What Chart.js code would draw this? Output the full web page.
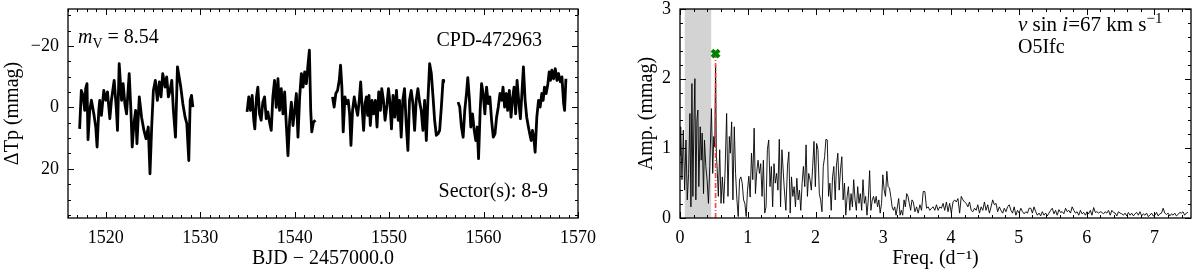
<!DOCTYPE html>
<html>
<head>
<meta charset="utf-8">
<title>CPD-472963</title>
<script src="https://cdn.jsdelivr.net/npm/chart.js@4.4.1/dist/chart.umd.min.js"></script>
<style>
    html, body { margin: 0; padding: 0; background: #fff; }
    #wrap { display: flex; width: 1200px; height: 277px; }
    canvas { display: block; }
</style>
</head>
<body>
<div id="wrap">
    <canvas id="lc-chart" width="600" height="277"></canvas>
    <canvas id="pg-chart" width="600" height="277"></canvas>
</div>
<script>
// Light curve, TESS sectors 8-9 (BJD - 2457000.0, mmag), one array pair per orbit
const seg1Time = [1517.23, 1517.41, 1517.59, 1517.77, 1517.87, 1518.01, 1518.12, 1518.30, 1518.48, 1518.76, 1518.94, 1519.08, 1519.26, 1519.36, 1519.54, 1519.79, 1520.00, 1520.18, 1520.43, 1520.60, 1520.89, 1521.13, 1521.24, 1521.42, 1521.67, 1521.84, 1522.02, 1522.20, 1522.48, 1522.66, 1522.80, 1522.98, 1523.16, 1523.30, 1523.55, 1523.79, 1524.04, 1524.26, 1524.50, 1524.68, 1524.86, 1525.04, 1525.25, 1525.46, 1525.67, 1525.85, 1526.03, 1526.28, 1526.45, 1526.63, 1526.81, 1526.99, 1527.16, 1527.38, 1527.59, 1527.77, 1527.94, 1528.16, 1528.40, 1528.58, 1528.79, 1528.94, 1529.08, 1529.22];
const seg1Mag = [7.0, -5.5, -3.9, 1.0, -6.1, -7.7, 10.5, 1.0, -2.3, 2.6, 6.4, 12.9, 1.0, -2.3, 2.6, -5.5, -2.3, -5.0, 3.7, -2.3, -8.8, 1.0, 7.5, -14.2, -2.3, -7.7, -1.2, 2.1, -11.0, 1.0, 12.9, 5.3, 1.0, 11.8, -3.4, 3.2, 7.5, 10.2, 6.4, 21.6, 6.4, -5.5, -8.8, -2.3, -8.3, -3.4, -11.0, -6.6, -9.9, -3.4, -5.5, -8.8, 1.0, 9.7, -13.2, -9.9, -6.6, -1.2, 3.2, 5.3, 17.3, -2.3, -3.9, -0.1];

const seg2Time = [1534.96, 1535.14, 1535.32, 1535.50, 1535.67, 1535.78, 1535.96, 1536.10, 1536.28, 1536.45, 1536.63, 1536.81, 1536.99, 1537.16, 1537.34, 1537.52, 1537.69, 1537.87, 1538.05, 1538.23, 1538.40, 1538.58, 1538.76, 1538.94, 1539.11, 1539.29, 1539.47, 1539.65, 1539.82, 1540.00, 1540.18, 1540.35, 1540.53, 1540.71, 1540.89, 1541.06, 1541.24, 1541.42, 1541.56, 1541.70, 1541.81, 1541.99, 1542.20];
const seg2Mag = [1.5, -3.4, 1.0, -3.9, 4.2, 7.0, -3.4, -6.6, 2.1, 4.2, -1.7, -3.4, 3.7, 1.5, 4.8, 7.5, -3.4, -8.8, 0, -9.3, 1.0, -6.1, 2.1, -5.0, 5.3, 15.7, 4.2, -1.7, 5.9, 1.0, -4.5, 9.7, -3.4, -11.0, -6.6, -11.5, -7.7, -14.2, -18.6, 1.0, 8.0, 4.8, 4.2];

const seg3Time = [1544.01, 1544.18, 1544.36, 1544.54, 1544.72, 1544.86, 1545.00, 1545.14, 1545.32, 1545.50, 1545.67, 1545.82, 1545.96, 1546.13, 1546.31, 1546.49, 1546.67, 1546.84, 1546.99, 1547.16, 1547.30, 1547.45, 1547.59, 1547.73, 1547.87, 1548.01, 1548.19, 1548.37, 1548.55, 1548.72, 1548.90, 1549.08, 1549.22, 1549.40, 1549.57, 1549.75, 1549.93, 1550.07, 1550.25, 1550.42, 1550.60, 1550.78, 1550.96, 1551.10, 1551.28, 1551.45, 1551.63, 1551.81, 1551.99, 1552.16, 1552.34, 1552.52, 1552.70, 1552.87, 1553.05, 1553.23, 1553.40, 1553.58, 1553.76, 1553.94, 1554.11, 1554.29, 1554.47, 1554.65, 1554.82, 1555.00, 1555.18, 1555.35, 1555.53, 1555.71, 1555.78];
const seg3Mag = [-3.4, -0.1, -4.5, -5.5, -8.8, -13.7, -6.6, 8.0, -3.4, -1.2, -2.3, 2.1, 12.4, 1.0, -3.4, -0.1, 2.6, -2.3, -8.3, 1.0, 7.5, -1.2, -3.4, 2.6, -3.9, 5.9, -2.3, 2.1, -2.3, 6.4, -5.0, 1.0, -6.1, -2.3, 4.2, -0.1, -6.1, -2.3, 7.0, -3.9, 3.2, -5.5, 4.2, -2.3, 9.7, -2.3, -6.1, 5.3, 14.0, -2.3, -5.5, -1.2, 7.5, -2.3, -6.1, -1.7, 1.0, 7.5, -2.3, 10.8, -2.3, -14.2, -11.0, -3.4, 4.2, 9.1, 8.6, 7.5, -0.1, -8.8, -8.3];

const seg4Time = [1557.30, 1557.48, 1557.66, 1557.84, 1558.01, 1558.19, 1558.33, 1558.51, 1558.65, 1558.83, 1559.01, 1559.18, 1559.33, 1559.47, 1559.64, 1559.79, 1559.96, 1560.14, 1560.32, 1560.50, 1560.67, 1560.85, 1561.03, 1561.21, 1561.38, 1561.56, 1561.74, 1561.91, 1562.06, 1562.23, 1562.41, 1562.55, 1562.73, 1562.91, 1563.05, 1563.23, 1563.40, 1563.55, 1563.72, 1563.90, 1564.08, 1564.22, 1564.40, 1564.57, 1564.75, 1564.89, 1565.04, 1565.18, 1565.32, 1565.46, 1565.64, 1565.82, 1565.99, 1566.17, 1566.31, 1566.45, 1566.63, 1566.81, 1566.95, 1567.09, 1567.23, 1567.41, 1567.59, 1567.77, 1567.94, 1568.12, 1568.30, 1568.48, 1568.58, 1568.72];
const seg4Mag = [-1.7, -0.1, 6.4, 9.7, 1.0, -4.5, -9.7, -2.3, 6.4, 2.1, 7.5, 10.8, 6.4, 16.7, 1.0, -7.7, -4.5, 2.1, -6.6, -1.2, -3.4, 4.2, 9.7, 8.6, 3.2, -0.1, -4.5, -2.3, -6.6, -0.1, -4.5, 1.0, -5.5, 3.2, -2.3, -6.6, 2.1, -8.8, -2.3, 3.7, -5.5, -13.2, -2.3, 3.2, 6.4, 8.6, 10.8, 7.5, 9.7, 14.6, 3.2, -2.3, -0.1, -4.5, -2.3, -6.6, -4.5, -7.7, -11.5, -8.8, -12.1, -9.3, -12.6, -8.8, -11.0, -8.3, -9.9, -1.2, 1.0, -9.3];

// Amplitude spectrum (d^-1, mmag), split in frequency bands
const freqLow = [0.000, 0.010, 0.029, 0.049, 0.068, 0.088, 0.107, 0.127, 0.146, 0.161, 0.176, 0.190, 0.205, 0.220, 0.234, 0.249, 0.264, 0.278, 0.298, 0.313, 0.327, 0.347, 0.361, 0.381, 0.400, 0.420, 0.439, 0.464, 0.483, 0.498, 0.513, 0.525, 0.537, 0.547, 0.566, 0.586, 0.605, 0.625, 0.645, 0.664, 0.688, 0.708, 0.728, 0.742, 0.762, 0.781, 0.801, 0.820, 0.840, 0.859, 0.879, 0.898, 0.918, 0.938, 0.957, 0.977, 0.996, 1.016, 1.035, 1.055, 1.074, 1.094, 1.113, 1.133, 1.152, 1.172, 1.191, 1.211, 1.230, 1.250, 1.270, 1.289, 1.309, 1.328, 1.348, 1.367, 1.387, 1.406, 1.426, 1.445, 1.465, 1.484, 1.504];
const ampLow = [0.90, 1.31, 0.55, 1.26, 0.40, 1.12, 0.26, 0.64, 1.50, 0.16, 1.93, 0.31, 1.36, 2.00, 0.26, 1.41, 1.55, 0.45, 1.31, 0.83, 1.22, 0.35, 1.12, 0.74, 0.55, 0.21, 0.74, 1.57, 0.64, 1.17, 1.02, 2.18, 0.90, 0.74, 0.31, 0.98, 0.21, 0.59, 0.21, 0.64, 1.50, 0.31, 1.17, 0.93, 1.38, 0.26, 1.31, 0.64, 0.26, 0.02, 0.55, 0.59, 0.50, 0.26, 0.21, 0.02, 0.40, 0.60, 0.30, 0.93, 0.55, 1.29, 0.35, 0.67, 0.83, 0.64, 0.78, 0.31, 0.83, 0.07, 0.16, 0.98, 1.12, 0.45, 0.74, 0.16, 0.78, 0.50, 0.64, 0.40, 1.13, 0.16, 0.98];

const freqMid = [1.538, 1.562, 1.587, 1.606, 1.626, 1.645, 1.665, 1.684, 1.704, 1.724, 1.743, 1.763, 1.782, 1.802, 1.821, 1.841, 1.860, 1.880, 1.899, 1.919, 1.938, 1.958, 1.977, 1.997, 2.016, 2.036, 2.056, 2.075, 2.095, 2.114, 2.134, 2.153, 2.173, 2.192, 2.212, 2.231, 2.251, 2.270, 2.290, 2.309, 2.329, 2.349, 2.368, 2.388, 2.407, 2.427, 2.446, 2.466, 2.485, 2.505, 2.524, 2.544, 2.563, 2.583, 2.602, 2.622, 2.641, 2.661, 2.681, 2.700, 2.720, 2.739, 2.759, 2.778, 2.798, 2.817, 2.837, 2.856, 2.876, 2.895, 2.915, 2.934, 2.954, 2.974, 2.993, 3.013, 3.032, 3.052, 3.071, 3.091, 3.110, 3.130, 3.149, 3.169, 3.188, 3.208, 3.227, 3.247, 3.266, 3.286, 3.306, 3.325, 3.345, 3.364, 3.384, 3.403, 3.423];
const ampMid = [0.43, 0.11, 0.76, 0.95, 0.07, 0.59, 0.31, 0.45, 0.16, 0.57, 0.26, 0.40, 0.11, 0.50, 0.74, 0.45, 1.05, 0.31, 0.64, 0.55, 0.40, 0.74, 1.10, 0.45, 1.07, 0.98, 0.35, 0.26, 0.09, 0.74, 0.88, 1.13, 1.12, 0.31, 0.50, 0.11, 0.59, 0.74, 0.26, 0.76, 0.93, 0.40, 0.69, 0.88, 0.26, 0.50, 0.04, 0.31, 0.45, 0.11, 0.35, 0.16, 0.55, 0.26, 0.11, 0.45, 0.21, 0.35, 0.11, 0.55, 0.21, 0.31, 0.04, 0.26, 0.68, 0.11, 0.26, 0.31, 0.21, 0.31, 0.16, 0.26, 0.07, 0.21, 0.62, 0.40, 0.31, 0.67, 0.45, 0.43, 0.31, 0.16, 0.11, 0.16, 0.04, 0.16, 0.28, 0.04, 0.11, 0.04, 0.26, 0.16, 0.35, 0.31, 0.21, 0.11, 0.26];

const freqHigh = [3.442, 3.467, 3.491, 3.515, 3.540, 3.564, 3.589, 3.613, 3.638, 3.662, 3.686, 3.711, 3.735, 3.760, 3.784, 3.808, 3.833, 3.857, 3.882, 3.906, 3.931, 3.955, 3.979, 4.004, 4.028, 4.053, 4.077, 4.101, 4.126, 4.150, 4.175, 4.199, 4.224, 4.248, 4.272, 4.297, 4.321, 4.346, 4.370, 4.394, 4.419, 4.443, 4.468, 4.492, 4.516, 4.541, 4.565, 4.590, 4.614, 4.639, 4.663, 4.687, 4.712, 4.736, 4.761, 4.785, 4.809, 4.834, 4.858, 4.883, 4.907, 4.931, 4.956, 4.980, 5.005, 5.029, 5.054, 5.078, 5.102, 5.127, 5.151, 5.176, 5.200, 5.224, 5.249, 5.273, 5.298, 5.322, 5.346, 5.371, 5.395, 5.420, 5.444, 5.469, 5.493];
const ampHigh = [0.23, 0.09, 0.16, 0.07, 0.19, 0.11, 0.38, 0.38, 0.14, 0.16, 0.11, 0.14, 0.16, 0.11, 0.19, 0.11, 0.16, 0.14, 0.21, 0.11, 0.23, 0.09, 0.21, 0.07, 0.23, 0.26, 0.23, 0.28, 0.07, 0.31, 0.26, 0.23, 0.21, 0.16, 0.23, 0.11, 0.09, 0.14, 0.11, 0.19, 0.07, 0.16, 0.11, 0.23, 0.11, 0.19, 0.07, 0.16, 0.26, 0.19, 0.21, 0.09, 0.16, 0.11, 0.07, 0.14, 0.09, 0.16, 0.19, 0.11, 0.07, 0.16, 0.04, 0.11, 0.07, 0.14, 0.09, 0.06, 0.09, 0.07, 0.14, 0.14, 0.07, 0.16, 0.09, 0.04, 0.07, 0.03, 0.09, 0.04, 0.07, 0.03, 0.07, 0.11, 0.14];

const freqTail = [5.518, 5.542, 5.566, 5.591, 5.615, 5.640, 5.664, 5.689, 5.713, 5.737, 5.762, 5.786, 5.811, 5.835, 5.859, 5.884, 5.908, 5.933, 5.957, 5.982, 6.006, 6.030, 6.055, 6.079, 6.104, 6.128, 6.152, 6.177, 6.201, 6.226, 6.250, 6.274, 6.299, 6.323, 6.348, 6.372, 6.397, 6.421, 6.445, 6.470, 6.494, 6.519, 6.543, 6.567, 6.592, 6.616, 6.641, 6.665, 6.690, 6.714, 6.738, 6.763, 6.787, 6.812, 6.836, 6.860, 6.885, 6.909, 6.934, 6.958, 6.982, 7.007, 7.031, 7.056, 7.080, 7.105, 7.129, 7.153, 7.178, 7.202, 7.227, 7.251, 7.275, 7.300, 7.324, 7.349, 7.373, 7.398, 7.422, 7.446, 7.471, 7.495];
const ampTail = [0.06, 0.11, 0.04, 0.12, 0.08, 0.09, 0.06, 0.14, 0.09, 0.11, 0.07, 0.16, 0.11, 0.07, 0.09, 0.04, 0.11, 0.06, 0.08, 0.04, 0.09, 0.06, 0.11, 0.04, 0.15, 0.08, 0.09, 0.07, 0.09, 0.08, 0.06, 0.09, 0.07, 0.11, 0.04, 0.11, 0.08, 0.07, 0.03, 0.09, 0.07, 0.06, 0.04, 0.07, 0.03, 0.08, 0.04, 0.07, 0.03, 0.06, 0.08, 0.04, 0.09, 0.03, 0.06, 0.04, 0.07, 0.02, 0.04, 0.07, 0.03, 0.04, 0.08, 0.03, 0.06, 0.07, 0.14, 0.07, 0.05, 0.07, 0.03, 0.06, 0.04, 0.07, 0.03, 0.05, 0.08, 0.07, 0.09, 0.04, 0.07, 0.08];

// Dominant peak and the shaded low-frequency band
const peakFreq = [0.525];
const peakAmp = [2.36];
const lowBand = [0.07, 0.46];

// Tick labels
const lcTimeTicks = [1520, 1530, 1540, 1550, 1560, 1570];
const lcMagTicks = [-20, 0, 20];
const pgFreqTicks = [0, 1, 2, 3, 4, 5, 6, 7];
const pgAmpTicks = [0, 1, 2, 3];

const FONT = '"Liberation Serif", "DejaVu Serif", serif';

function toPoints(xs, ys) {
    return xs.map((x, i) => ({ x: x, y: ys[i] }));
}

// minor tick positions between min and max
function steps(min, max, step) {
    const out = [];
    for (let v = min; v <= max + 1e-9; v += step) out.push(+v.toFixed(4));
    return out;
}

function withMinus(v) {
    return v < 0 ? '\u2212' + Math.abs(v) : String(v);
}

// Text made of pieces: italic, subscript, superscript
function drawRuns(ctx, runs, x, y, align, size) {
    const fontFor = r => `${r.it ? 'italic ' : ''}${r.sub || r.sup ? Math.round(size * 0.7) : size}px ${FONT}`;
    let width = 0;
    runs.forEach(r => { ctx.font = fontFor(r); width += ctx.measureText(r.t).width; });
    let cx = align === 'right' ? x - width : x;
    runs.forEach(r => {
        ctx.font = fontFor(r);
        const dy = r.sub ? size * 0.25 : (r.sup ? -size * 0.4 : 0);
        ctx.fillText(r.t, cx, y + dy);
        cx += ctx.measureText(r.t).width;
    });
}

// Box frame, inward ticks on all four sides, shaded band and text notes
const framePlugin = {
    id: 'frame',
    beforeDatasetsDraw(chart, args, opts) {
        if (!opts.band) return;
        const { ctx, chartArea: a, scales: { x } } = chart;
        const x0 = x.getPixelForValue(opts.band[0]);
        const x1 = x.getPixelForValue(opts.band[1]);
        ctx.save();
        ctx.fillStyle = '#d3d3d3';
        ctx.fillRect(x0, a.top, x1 - x0, a.bottom - a.top);
        ctx.restore();
    },
    afterDatasetsDraw(chart, args, opts) {
        const { ctx, chartArea: a, scales: { x, y } } = chart;
        ctx.save();
        ctx.strokeStyle = '#000';
        ctx.lineWidth = 1;
        ctx.beginPath();
        const xMarks = (vals, len) => vals.forEach(v => {
            const px = Math.round(x.getPixelForValue(v)) + 0.5;
            if (px < a.left - 1 || px > a.right + 1) return;
            ctx.moveTo(px, a.bottom); ctx.lineTo(px, a.bottom - len);
            ctx.moveTo(px, a.top); ctx.lineTo(px, a.top + len);
        });
        const yMarks = (vals, len) => vals.forEach(v => {
            const py = Math.round(y.getPixelForValue(v)) + 0.5;
            if (py < a.top - 1 || py > a.bottom + 1) return;
            ctx.moveTo(a.left, py); ctx.lineTo(a.left + len, py);
            ctx.moveTo(a.right, py); ctx.lineTo(a.right - len, py);
        });
        xMarks(opts.xMinor, 3);
        xMarks(opts.xMajor, 6);
        yMarks(opts.yMinor, 3);
        yMarks(opts.yMajor, 6);
        ctx.stroke();
        ctx.lineWidth = 1.3;
        ctx.strokeRect(a.left, a.top, a.right - a.left, a.bottom - a.top);

        ctx.fillStyle = '#000';
        ctx.textBaseline = 'alphabetic';
        (opts.notes || []).forEach(n => drawRuns(ctx, n.runs, n.x, n.y, n.align, n.size || 20));
        ctx.restore();
    }
};

// fixed axis box, no label overhang padding
function fixSize(prop, size) {
    return s => {
        s[prop] = size;
        s.paddingTop = 0;
        s.paddingBottom = 0;
        s.paddingLeft = 0;
        s.paddingRight = 0;
    };
}

function axis(ticks, extra) {
    return Object.assign({
        type: 'linear',
        grid: { display: false, drawTicks: false },
        border: { display: false },
        afterBuildTicks: s => { s.ticks = ticks.map(v => ({ value: v })); },
        ticks: {
            color: '#000',
            padding: 9,
            font: { family: FONT, size: 18 },
            callback: v => withMinus(v)
        }
    }, extra);
}

function axisTitle(text, padding) {
    return {
        display: true,
        text: text,
        color: '#000',
        font: { family: FONT, size: 20, lineHeight: 1 },
        padding: padding
    };
}

// Left panel: light curve
const lcSegments = [[seg1Time, seg1Mag], [seg2Time, seg2Mag], [seg3Time, seg3Mag], [seg4Time, seg4Mag]];

new Chart(document.getElementById('lc-chart'), {
    type: 'line',
    data: {
        datasets: lcSegments.map(seg => ({
            data: toPoints(seg[0], seg[1]),
            borderColor: '#000',
            borderWidth: 2.8,
            borderJoinStyle: 'round',
            pointRadius: 0,
            tension: 0,
            fill: false
        }))
    },
    options: {
        responsive: false,
        animation: false,
        layout: { padding: { top: 9, right: 22, left: 0, bottom: 0 } },
        plugins: {
            legend: { display: false },
            tooltip: { enabled: false },
            frame: {
                xMajor: lcTimeTicks,
                xMinor: steps(1516, 1570, 1),
                yMajor: lcMagTicks,
                yMinor: steps(-30, 35, 5),
                notes: [
                    { x: 78, y: 43, align: 'left', runs: [{ t: 'm', it: true }, { t: 'V', sub: true }, { t: ' = 8.54' }] },
                    { x: 542, y: 46, align: 'right', runs: [{ t: 'CPD-472963' }] },
                    { x: 548, y: 197, align: 'right', runs: [{ t: 'Sector(s): 8-9' }] }
                ]
            }
        },
        scales: {
            x: axis(lcTimeTicks, {
                min: 1516, max: 1570,
                afterFit: fixSize('height', 59),
                title: axisTitle('BJD \u2212 2457000.0', { bottom: 8 })
            }),
            y: axis(lcMagTicks, {
                min: -32, max: 36, reverse: true,
                afterFit: fixSize('width', 68),
                title: axisTitle('\u0394Tp (mmag)', { top: 3 })
            })
        }
    },
    plugins: [framePlugin]
});

// Right panel: amplitude spectrum
const spectrum = toPoints(
    freqLow.concat(freqMid, freqHigh, freqTail),
    ampLow.concat(ampMid, ampHigh, ampTail)
);

new Chart(document.getElementById('pg-chart'), {
    type: 'line',
    data: {
        datasets: [
            {
                data: toPoints(peakFreq, peakAmp),
                showLine: false,
                pointStyle: 'crossRot',
                pointRadius: 5,
                pointBorderWidth: 4,
                pointBorderColor: '#008000',
                order: 0
            },
            {
                data: [{ x: peakFreq[0], y: 0 }, { x: peakFreq[0], y: peakAmp[0] }],
                borderColor: 'rgba(255, 50, 50, 0.9)',
                borderWidth: 1.7,
                borderDash: [5, 2, 1, 2],
                pointRadius: 0,
                order: 1
            },
            {
                data: spectrum,
                borderColor: '#000',
                borderWidth: 0.9,
                pointRadius: 0,
                tension: 0,
                order: 2
            }
        ]
    },
    options: {
        responsive: false,
        animation: false,
        layout: { padding: { top: 9, right: 8, left: 0, bottom: 0 } },
        plugins: {
            legend: { display: false },
            tooltip: { enabled: false },
            frame: {
                band: lowBand,
                xMajor: pgFreqTicks,
                xMinor: steps(0, 7.5, 0.2),
                yMajor: pgAmpTicks,
                yMinor: steps(0, 3, 0.2),
                notes: [
                    { x: 418, y: 31, align: 'left', size: 21, runs: [{ t: 'v', it: true }, { t: ' sin ' }, { t: 'i', it: true }, { t: '=67 km s' }, { t: '\u22121', sup: true }] },
                    { x: 418, y: 53, align: 'left', runs: [{ t: 'O5Ifc' }] }
                ]
            }
        },
        scales: {
            x: axis(pgFreqTicks, {
                min: 0, max: 7.54,
                afterFit: fixSize('height', 59),
                title: axisTitle('Freq. (d\u207B\u00B9)', { bottom: 8 })
            }),
            y: axis(pgAmpTicks, {
                min: 0, max: 3,
                afterFit: fixSize('width', 80),
                title: axisTitle('Amp. (mmag)', { top: 37 })
            })
        }
    },
    plugins: [framePlugin]
});
</script>
</body>
</html>
